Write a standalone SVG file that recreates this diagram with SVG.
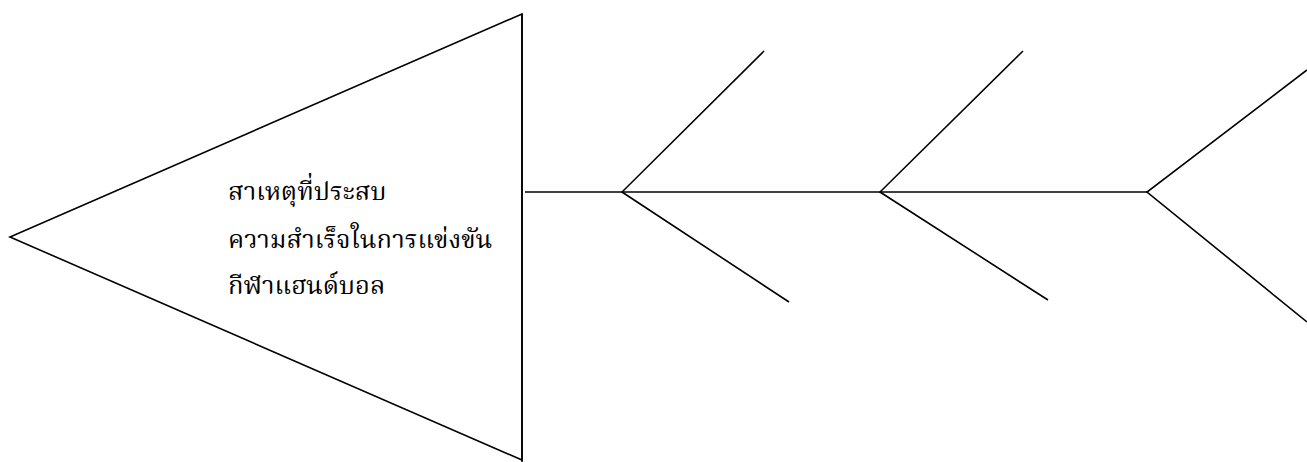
<svg xmlns="http://www.w3.org/2000/svg" width="1307" height="462" viewBox="0 0 1307 462">
<style>
.ln{stroke:#000;stroke-width:1.6;fill:none}
.t{font-family:"Noto Serif Thai","Noto Sans Thai","Liberation Serif","DejaVu Serif",serif;font-size:25.5px;fill:#000}
</style>
<rect width="1307" height="462" fill="#fff"/>
<g id="head">
<polygon class="ln" points="522,14 10,237 522,460"/>
<line class="ln" x1="522" y1="14" x2="522" y2="462"/>
<text class="t" x="228" y="200">สาเหตุที่ประสบ</text>
<text class="t" x="228" y="248">ความสำเร็จในการแข่งขัน</text>
<text class="t" x="228" y="294">กีฬาแฮนด์บอล</text>
</g>
<g id="connectors">
<line class="ln" x1="525" y1="192" x2="1147" y2="192"/>
<polyline class="ln" points="764,51 622,192 789,302"/>
<polyline class="ln" points="1023,51 880,192 1048,300"/>
<polyline class="ln" points="1307,70 1147,192 1307,322"/>
</g>
</svg>
